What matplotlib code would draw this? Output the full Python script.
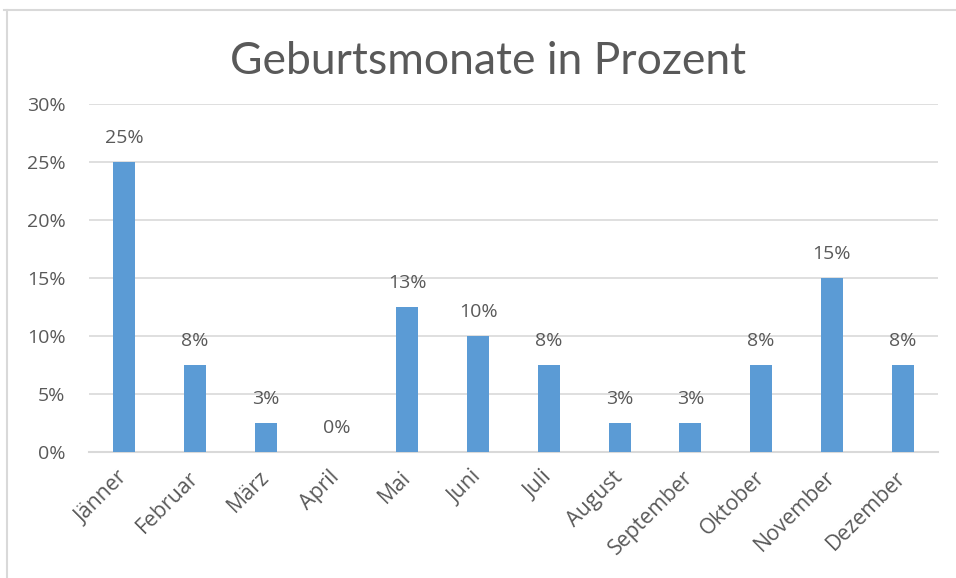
import matplotlib
matplotlib.use("Agg")
import matplotlib.pyplot as plt
from matplotlib.lines import Line2D
from matplotlib.ticker import FuncFormatter

months = ["Jänner", "Februar", "März", "April", "Mai", "Juni", "Juli",
          "August", "September", "Oktober", "November", "Dezember"]
values = [25, 7.5, 2.5, 0, 12.5, 10, 7.5, 2.5, 2.5, 7.5, 15, 7.5]
labels = ["25%", "8%", "3%", "0%", "13%", "10%", "8%", "3%", "3%", "8%", "15%", "8%"]
yticks = [0, 5, 10, 15, 20, 25, 30]

plt.rcParams['font.family'] = ['Open Sans', 'DejaVu Sans']
txt = '#595959'
grid = '#d9d9d9'

fig = plt.figure(figsize=(9.56, 5.78), dpi=100)
ax = fig.add_axes([89/956, 1-452/578, (938-89)/956, (452-104)/578])

x = list(range(len(months)))
ax.bar(x, values, width=0.31, color='#5b9bd5', zorder=3)
ax.set_xlim(-0.5, len(months) - 0.5)
ax.set_ylim(0, 30)
ax.set_yticks(yticks)
ax.yaxis.set_major_formatter(FuncFormatter(lambda v, p: f"{int(v)}%"))
ax.grid(axis='y', color=grid, linewidth=1.2, zorder=0)
for s in ['top', 'right', 'left']:
    ax.spines[s].set_visible(False)
ax.spines['bottom'].set_color(grid)
ax.spines['bottom'].set_linewidth(1.5)
ax.tick_params(axis='both', length=0, labelcolor=txt, labelsize=14)
ax.tick_params(axis='y', pad=17)
ax.set_xticks(x)
ax.set_xticklabels(months, rotation=45, ha='right', va='center',
                   rotation_mode='anchor', fontsize=15.3)
ax.tick_params(axis='x', pad=16)

for xi, v, l in zip(x, values, labels):
    ax.annotate(l, (xi, v), xytext=(0, 11), textcoords='offset points',
                ha='center', va='bottom', color=txt, fontsize=14)

fig.text(488/956, 1-62/578, "Geburtsmonate in Prozent", ha='center', va='center',
         color=txt, fontsize=32, family=['Lato', 'DejaVu Sans'])

fig.add_artist(Line2D([4/956, 1], [1-10/578, 1-10/578], transform=fig.transFigure,
                      color=grid, linewidth=1.5))
fig.add_artist(Line2D([7/956, 7/956], [0, 1-10/578], transform=fig.transFigure,
                      color=grid, linewidth=1.5))

fig.savefig('out.png', dpi=100)
